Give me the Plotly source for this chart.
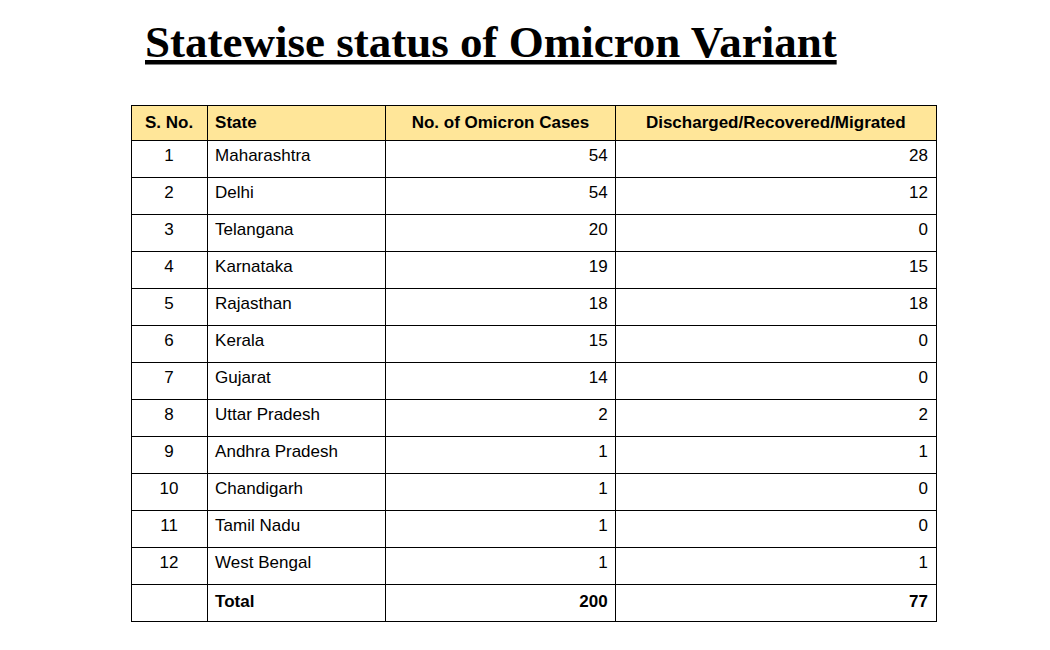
import plotly.graph_objects as go

serial = [str(i) for i in range(1, 13)] + [""]
states = ["Maharashtra", "Delhi", "Telangana", "Karnataka", "Rajasthan", "Kerala",
          "Gujarat", "Uttar Pradesh", "Andhra Pradesh", "Chandigarh", "Tamil Nadu",
          "West Bengal", "<b>Total</b>"]
cases = [54, 54, 20, 19, 18, 15, 14, 2, 1, 1, 1, 1]
recovered = [28, 12, 0, 15, 18, 0, 0, 2, 1, 0, 0, 1]
headers = ["S. No.", "State", "No. of Omicron Cases", "Discharged/Recovered/Migrated"]

cases_txt = [str(v) for v in cases] + ["<b>%d</b>" % sum(cases)]
rec_txt = [str(v) for v in recovered] + ["<b>%d</b>" % sum(recovered)]

W, H = 1050, 650
fig = go.Figure(go.Table(
    domain=dict(x=[123 / W, 928 / W], y=[1 - 640 / H, 1 - 97 / H]),
    columnwidth=[76, 178, 230, 320],
    header=dict(
        values=["<b>%s</b>" % h for h in headers],
        fill_color="#FFE699",
        line=dict(color="black", width=1),
        align=["center", "left", "center", "center"],
        font=dict(family="Arial, Liberation Sans", size=17, color="black"),
        height=30,
    ),
    cells=dict(
        values=[serial, states, cases_txt, rec_txt],
        fill_color="white",
        line=dict(color="black", width=1),
        align=["center", "left", "right", "right"],
        font=dict(family="Arial, Liberation Sans", size=17, color="black"),
        height=37,
    ),
))

fig.add_annotation(
    text="<b><u>Statewise status of Omicron Variant</u></b>",
    x=483 / W, y=1 - 34 / H, xref="paper", yref="paper",
    showarrow=False, xanchor="center", yanchor="middle",
    font=dict(family="Liberation Serif, Times New Roman", size=45, color="black"),
)

fig.update_layout(width=W, height=H, margin=dict(l=0, r=0, t=0, b=0),
                  paper_bgcolor="white", plot_bgcolor="white")
fig.write_html("out.html")
